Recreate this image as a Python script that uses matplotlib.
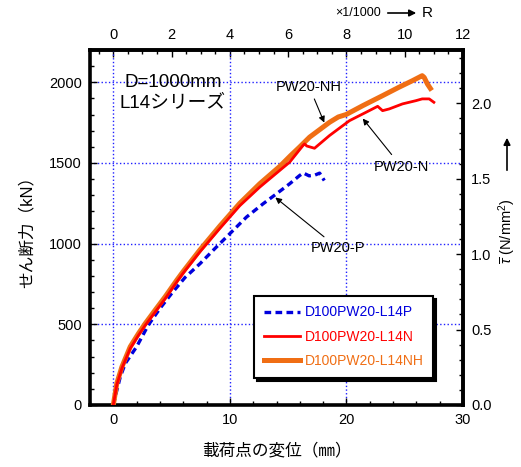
import matplotlib
matplotlib.use("Agg")
import matplotlib.pyplot as plt
from matplotlib.ticker import MultipleLocator

plt.rcParams['font.family'] = ['Liberation Sans', 'Noto Sans CJK JP', 'DejaVu Sans']
plt.rcParams['mathtext.fontset'] = 'custom'
plt.rcParams['mathtext.rm'] = 'Liberation Sans'
plt.rcParams['mathtext.it'] = 'Liberation Sans:italic'

# D100PW20-L14P (blue dashed)
p_disp = [0, 0.3, 0.6, 1.03, 2.0, 3.0, 4.0, 5.0, 6.15, 7.44, 8.57, 10.0, 11.43,
          12.85, 14.0, 15.13, 15.98, 16.3, 16.8, 17.3, 17.7, 18.1]
p_load = [0, 90, 175, 258, 361, 495, 598, 691, 790, 876, 959, 1062, 1165,
          1247, 1309, 1371, 1422, 1438, 1420, 1425, 1437, 1391]

# D100PW20-L14N (red)
n_disp = [0, 0.3, 0.74, 1.45, 2.16, 2.74, 3.59, 4.44, 5.44, 6.0, 7.44, 9.15, 10.85,
          12.56, 14.3, 15.13, 16.27, 16.41, 16.6, 17.26, 18.55, 20.26, 21.68, 22.68,
          23.1, 23.68, 24.81, 25.96, 26.5, 27.1, 27.5]
n_load = [0, 125, 228, 350, 432, 494, 576, 658, 762, 818, 950, 1095, 1235,
          1350, 1455, 1505, 1608, 1618, 1605, 1591, 1670, 1762, 1814, 1851,
          1824, 1835, 1866, 1886, 1897, 1897, 1876]

# D100PW20-L14NH (orange)
nh_disp = [0, 0.3, 0.74, 1.45, 2.16, 2.74, 3.59, 4.44, 5.44, 6.0, 7.44, 9.15, 10.85,
           12.56, 14.3, 15.2, 16.0, 16.84, 18.55, 19.3, 19.97, 21.4, 23.1, 24.5,
           25.67, 26.5, 26.67, 26.95, 27.2]
nh_load = [0, 134, 237, 361, 443, 505, 588, 670, 773, 828, 962, 1110, 1250,
           1371, 1480, 1545, 1600, 1660, 1752, 1785, 1800, 1855, 1917, 1969,
           2010, 2041, 2030, 1989, 1962]

TAU_FACTOR = 935.0   # kN per N/mm2
R_FACTOR = 2.5       # mm per 1/1000 rad

c_blue = '#0000DD'
c_red = '#FF0000'
c_orange = '#F06E14'

fig = plt.figure(figsize=(5.21, 4.67), dpi=100)
ax = fig.add_axes([90 / 521, 1 - 405 / 467, 373 / 521, 355 / 467])

ax.plot(p_disp, p_load, color=c_blue, lw=2.4, ls=(0, (2, 1.3)), label='D100PW20-L14P', zorder=3)
ax.plot(n_disp, n_load, color=c_red, lw=2.0, label='D100PW20-L14N', zorder=4)
ax.plot(nh_disp, nh_load, color=c_orange, lw=3.6, label='D100PW20-L14NH', zorder=3.5)

ax.set_xlim(-2, 30)
ax.set_ylim(0, 2200)
ax.xaxis.set_major_locator(MultipleLocator(10))
ax.xaxis.set_minor_locator(MultipleLocator(2))
ax.yaxis.set_major_locator(MultipleLocator(500))
ax.yaxis.set_minor_locator(MultipleLocator(100))
ax.grid(True, which='major', color='#2020FF', ls=':', lw=1.0)
ax.set_axisbelow(True)

for s in ax.spines.values():
    s.set_linewidth(2.6)

ax.tick_params(which='both', direction='in', labelsize=10.5, width=1.0, pad=6)
ax.tick_params(which='major', length=5)
ax.tick_params(which='minor', length=3)

ax.set_xlabel('載荷点の変位（㎜）', fontsize=12, labelpad=11)
ax.set_ylabel('せん断力（kN）', fontsize=12, labelpad=10)

secx = ax.secondary_xaxis('top', functions=(lambda x: x / R_FACTOR, lambda r: r * R_FACTOR))
secx.xaxis.set_major_locator(MultipleLocator(2))
secx.xaxis.set_minor_locator(MultipleLocator(0.5))
secx.tick_params(which='both', direction='in', labelsize=10.5, width=1.0, pad=6)
secx.tick_params(which='major', length=5)
secx.tick_params(which='minor', length=3)
secx.spines['top'].set_linewidth(2.6)

secy = ax.secondary_yaxis('right', functions=(lambda q: q / TAU_FACTOR, lambda t: t * TAU_FACTOR))
secy.yaxis.set_major_locator(MultipleLocator(0.5))
secy.yaxis.set_minor_locator(MultipleLocator(0.1))
secy.yaxis.set_major_formatter(matplotlib.ticker.FormatStrFormatter('%.1f'))
secy.tick_params(which='both', direction='in', labelsize=10.5, width=1.0, pad=6)
secy.tick_params(which='major', length=5)
secy.tick_params(which='minor', length=3)
secy.spines['right'].set_linewidth(2.6)

ax.text(5.1, 1935, 'D=1000mm\nL14シリーズ', fontsize=13.5, ha='center', va='center',
        linespacing=1.25, zorder=5)

arrow = dict(arrowstyle='-|>', color='black', lw=0.8, mutation_scale=9, shrinkA=2, shrinkB=0)
ax.annotate('PW20-NH', xy=(18.1, 1750), xytext=(16.8, 1973), fontsize=10.5,
            ha='center', va='center', arrowprops=arrow)
ax.annotate('PW20-N', xy=(21.4, 1775), xytext=(24.7, 1478), fontsize=10.5,
            ha='center', va='center', arrowprops=arrow)
ax.annotate('PW20-P', xy=(13.9, 1286), xytext=(19.3, 971), fontsize=10.5,
            ha='center', va='center', arrowprops=arrow)

leg = ax.legend(loc='lower right', bbox_to_anchor=(0.92, 0.076),
                fontsize=10, handlelength=2.6, handletextpad=0.35, borderpad=0.7,
                labelcolor='linecolor', fancybox=False,
                framealpha=1, edgecolor='black', borderaxespad=0, labelspacing=0.75,
                shadow={'color': 'black', 'alpha': 1.0})
leg.get_frame().set_linewidth(1.5)
leg.set_zorder(6)

# right-hand axis label with arrow
fig.text(507 / 521, 1 - 231 / 467, r'$\overline{\tau}$ (N/mm$^2$)', rotation=90,
         ha='center', va='center', fontsize=10.5)
fig.add_artist(matplotlib.patches.FancyArrowPatch(
    (507 / 521, 1 - 173 / 467), (507 / 521, 1 - 135 / 467), transform=fig.transFigure,
    arrowstyle='-|>', mutation_scale=10, color='black', lw=1.2))

# top axis note
fig.text(335 / 521, 1 - 13 / 467, '×1/1000', ha='left', va='center', fontsize=9)
fig.add_artist(matplotlib.patches.FancyArrowPatch(
    (385 / 521, 1 - 13 / 467), (419 / 521, 1 - 13 / 467), transform=fig.transFigure,
    arrowstyle='-|>', mutation_scale=10, color='black', lw=1.2))
fig.text(422 / 521, 1 - 13 / 467, 'R', ha='left', va='center', fontsize=11)

fig.savefig('out.png', dpi=100)
